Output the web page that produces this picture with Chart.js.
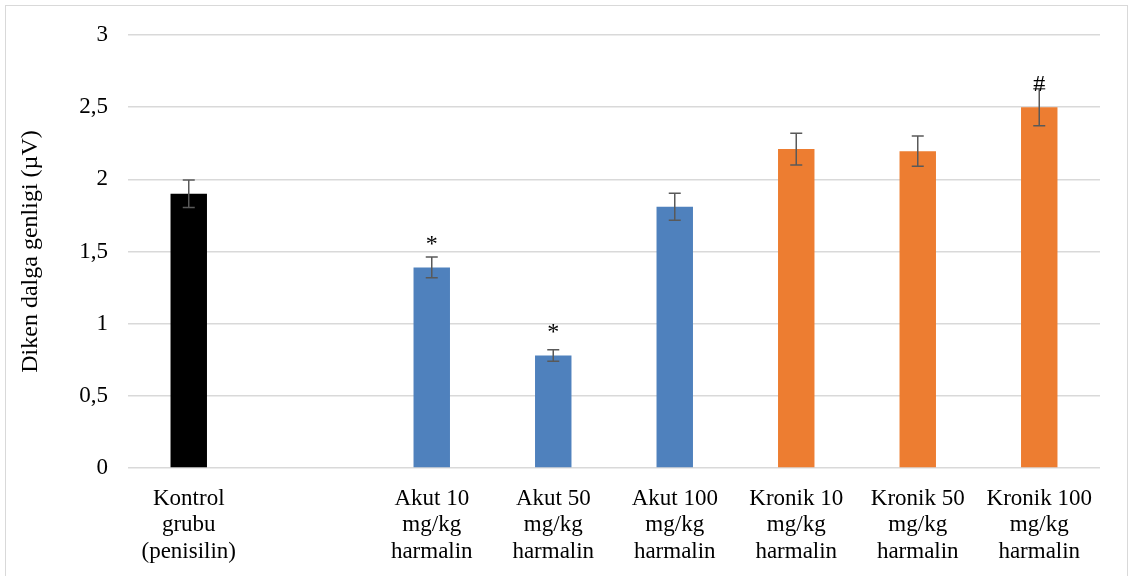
<!DOCTYPE html>
<html>
<head>
<meta charset="utf-8">
<script src="https://cdn.jsdelivr.net/npm/chart.js@4/dist/chart.umd.min.js"></script>
<style>
  html, body { margin: 0; padding: 0; background: #fff; }
  #wrap { width: 1129px; height: 576px; position: relative; }
</style>
</head>
<body>
<div id="wrap"><canvas id="myChart"></canvas></div>
<script>
// groups (the second slot is left empty on purpose)
var groups = [
  ['Kontrol', 'grubu', '(penisilin)'],
  '',
  ['Akut 10', 'mg/kg', 'harmalin'],
  ['Akut 50', 'mg/kg', 'harmalin'],
  ['Akut 100', 'mg/kg', 'harmalin'],
  ['Kronik 10', 'mg/kg', 'harmalin'],
  ['Kronik 50', 'mg/kg', 'harmalin'],
  ['Kronik 100', 'mg/kg', 'harmalin']
];
var amplitude = [1.9, null, 1.39, 0.78, 1.81, 2.21, 2.195, 2.5];
var errors = [0.095, null, 0.072, 0.04, 0.093, 0.11, 0.105, 0.128];
var marks = ['', '', '*', '*', '', '', '', '#'];
var barColors = ['#000000', '#000000', '#4F81BD', '#4F81BD', '#4F81BD', '#ED7D31', '#ED7D31', '#ED7D31'];
var yTicks = [0, 0.5, 1, 1.5, 2, 2.5, 3];

var serif = "'Liberation Serif', 'Times New Roman', serif";

// error bars + significance marks on top of the bars
var errorBars = {
  id: 'errorBars',
  afterDatasetsDraw: function(chart) {
    var ctx = chart.ctx;
    var meta = chart.getDatasetMeta(0);
    var y = chart.scales.y;
    ctx.save();
    meta.data.forEach(function(bar, i) {
      var v = amplitude[i];
      if (v == null) return;
      var x = bar.x;
      var e = errors[i];
      var top = y.getPixelForValue(v + e);
      var bot = y.getPixelForValue(v - e);
      ctx.strokeStyle = '#595959';
      ctx.lineWidth = 1.5;
      ctx.beginPath();
      ctx.moveTo(x, top); ctx.lineTo(x, bot);
      ctx.moveTo(x - 6, top); ctx.lineTo(x + 6, top);
      ctx.moveTo(x - 6, bot); ctx.lineTo(x + 6, bot);
      ctx.stroke();
      if (marks[i]) {
        ctx.fillStyle = '#000';
        ctx.font = '24px ' + serif;
        ctx.textAlign = 'center';
        ctx.textBaseline = 'alphabetic';
        ctx.fillText(marks[i], x, y.getPixelForValue(v) - 16);
      }
    });
    ctx.restore();
  }
};

// thin frame round the whole chart
var frame = {
  id: 'frame',
  afterDraw: function(chart) {
    var ctx = chart.ctx;
    ctx.save();
    ctx.strokeStyle = '#d9d9d9';
    ctx.lineWidth = 1;
    ctx.strokeRect(5.5, 5.5, chart.width - 7, chart.height);
    ctx.restore();
  }
};

var ctx = document.getElementById('myChart').getContext('2d');
var chart = new Chart(ctx, {
  type: 'bar',
  data: {
    labels: groups,
    datasets: [{
      data: amplitude,
      backgroundColor: barColors,
      borderWidth: 0,
      barPercentage: 0.3,
      categoryPercentage: 1
    }]
  },
  options: {
    responsive: true,
    maintainAspectRatio: false,
    animation: false,
    layout: { padding: { left: 16, right: 29, top: 35, bottom: 0 } },
    plugins: {
      legend: { display: false },
      tooltip: { enabled: false }
    },
    scales: {
      x: {
        grid: { display: false },
        border: { display: false },
        ticks: {
          color: '#000',
          font: { family: serif, size: 23, lineHeight: 1.17 },
          padding: 9,
          maxRotation: 0,
          autoSkip: false
        },
        afterFit: function(s) { s.height = 108; }
      },
      y: {
        min: 0,
        max: 3,
        afterBuildTicks: function(s) { s.ticks = yTicks.map(function(v) { return { value: v }; }); },
        grid: { color: '#d9d9d9', lineWidth: 1.5, drawTicks: false },
        border: { display: false },
        ticks: {
          color: '#000',
          font: { family: serif, size: 23 },
          padding: 20,
          callback: function(v) { return String(v).replace('.', ','); }
        },
        title: {
          display: true,
          text: 'Diken dalga genligi (µV)',
          color: '#000',
          font: { family: serif, size: 24 },
          padding: { top: 0, bottom: 18 }
        },
        afterFit: function(s) { s.width = 112; s.paddingTop = 0; }
      }
    }
  },
  plugins: [errorBars, frame]
});
</script>
</body>
</html>
